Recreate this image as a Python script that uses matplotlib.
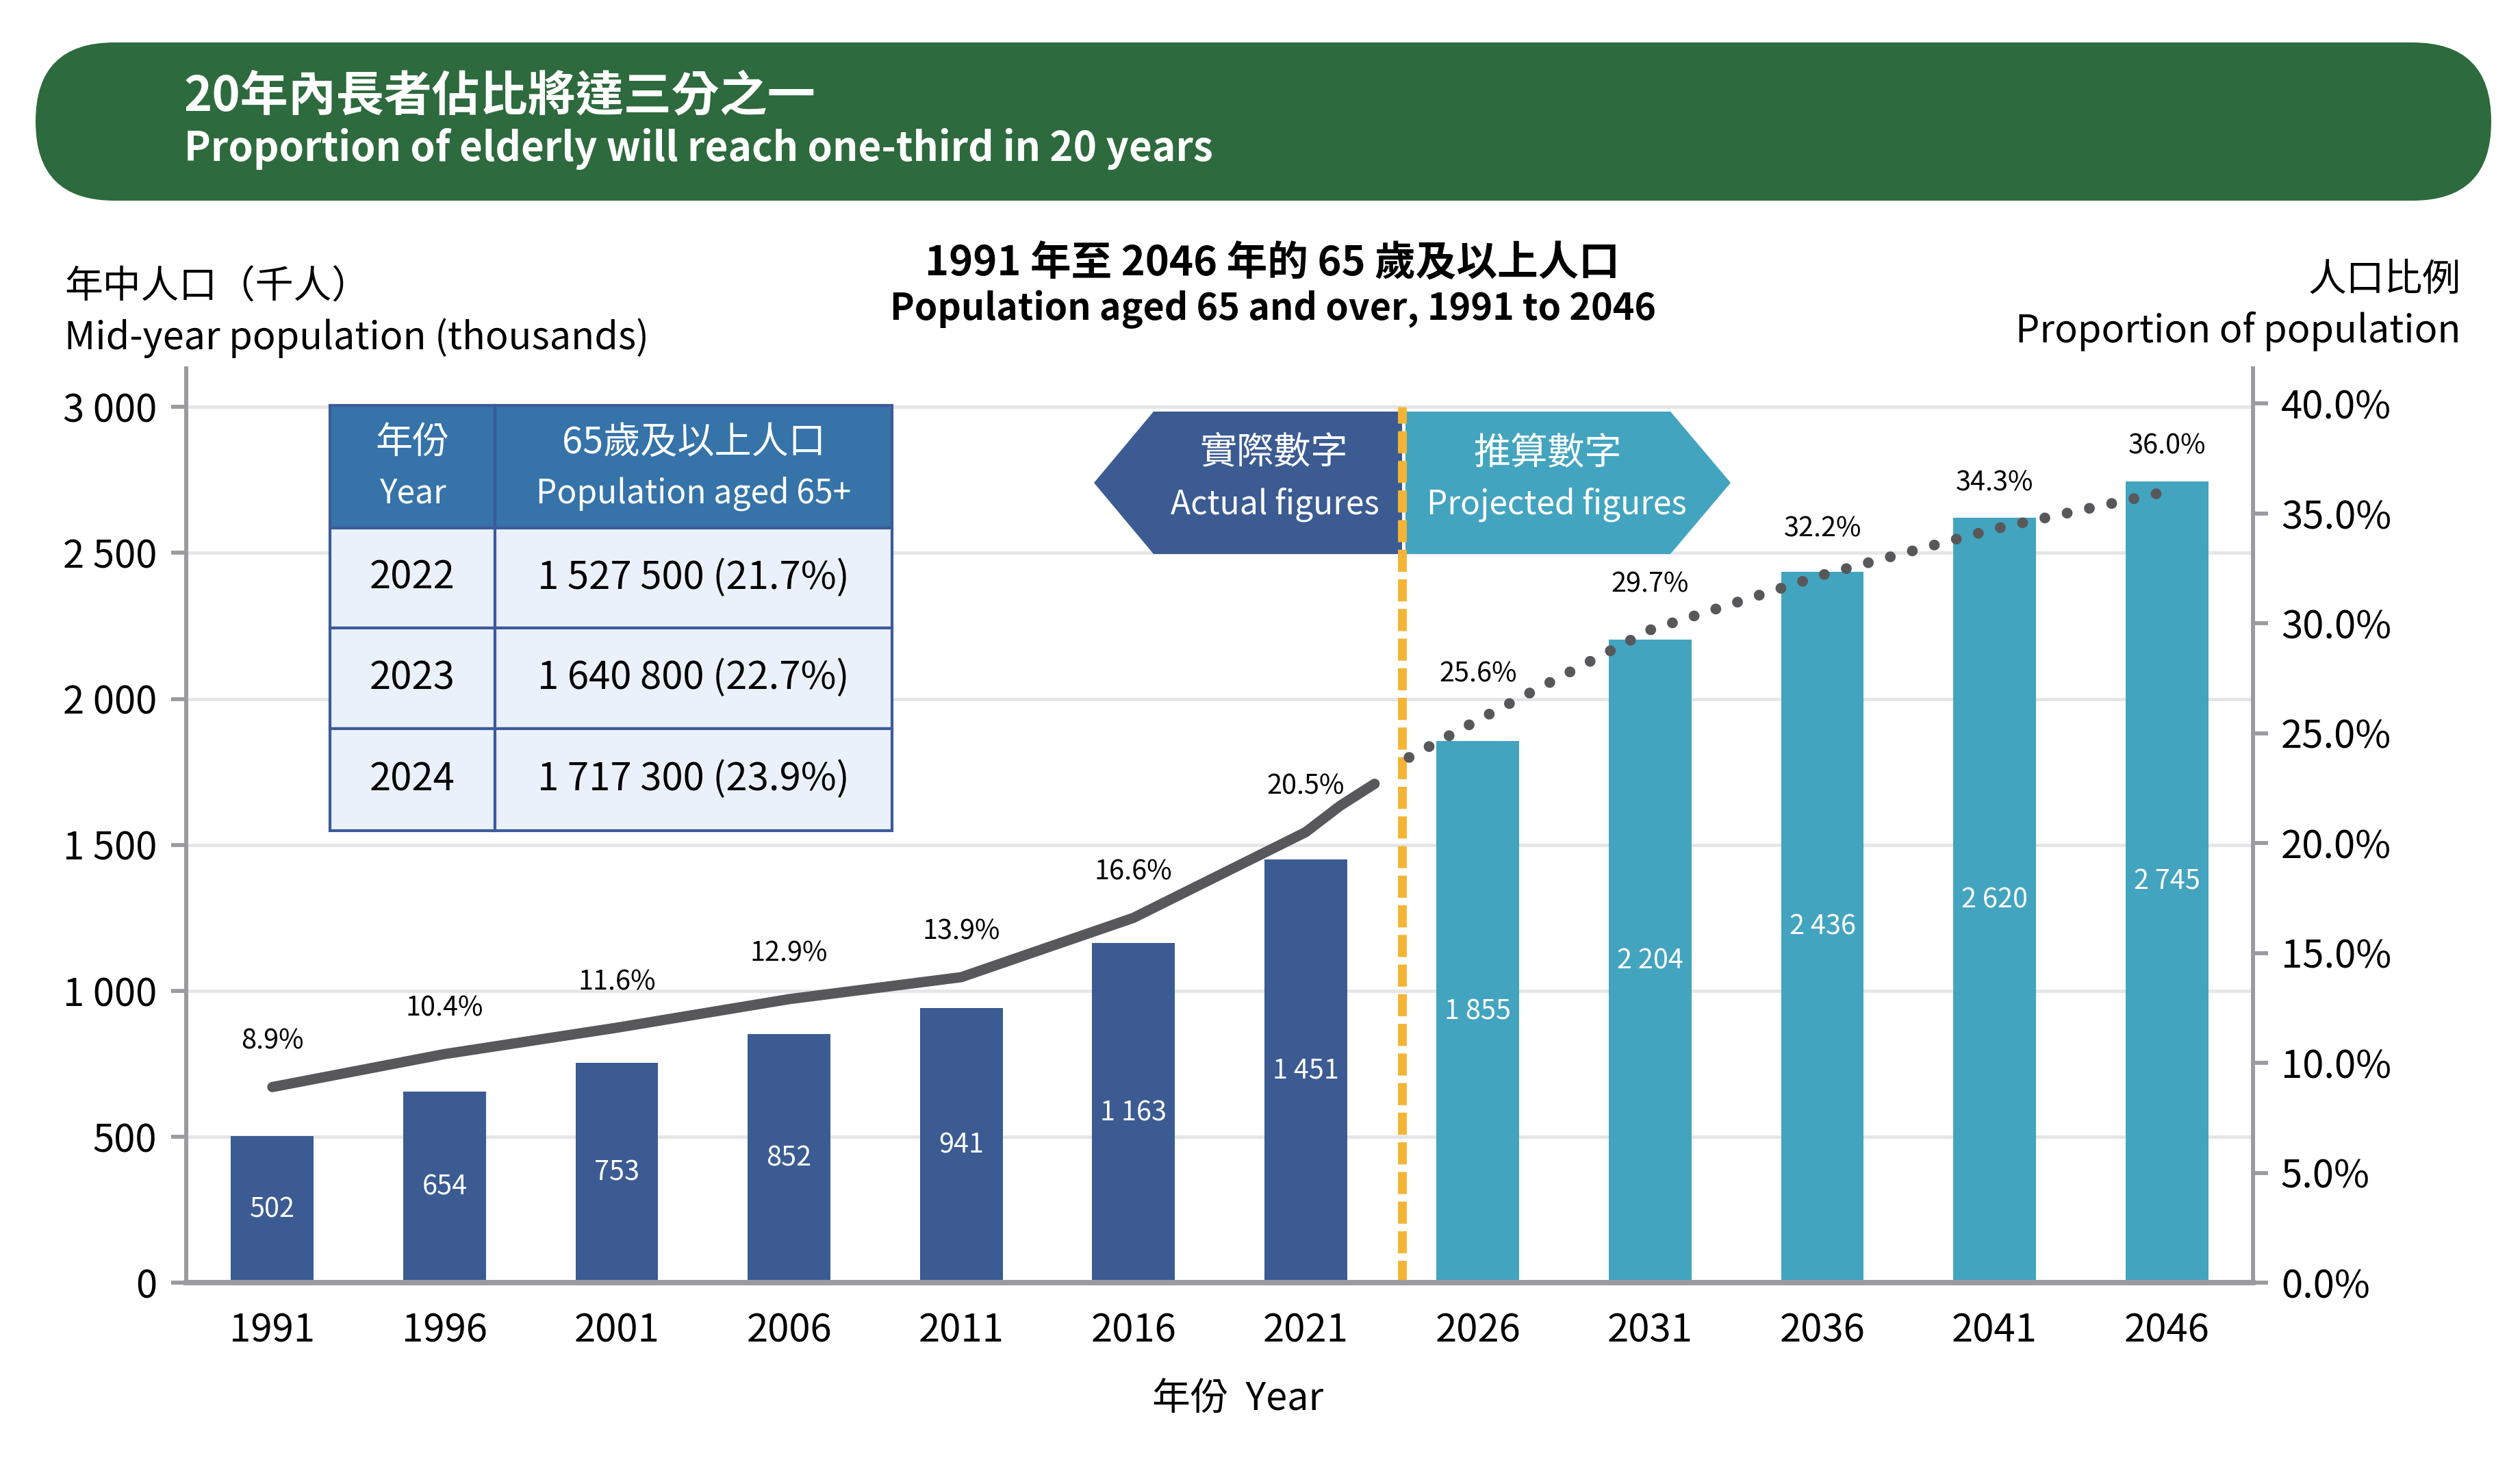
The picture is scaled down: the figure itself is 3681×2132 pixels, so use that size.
import numpy as np
import matplotlib
matplotlib.use('Agg')
import matplotlib.pyplot as plt
import matplotlib.transforms as mtransforms
from matplotlib.patches import Polygon, FancyBboxPatch, Rectangle

plt.rcParams['font.family'] = ['Noto Sans CJK TC', 'DejaVu Sans']

# 數據 / data
years_actual = [1991, 1996, 2001, 2006, 2011, 2016, 2021]
pop_actual = [502, 654, 753, 852, 941, 1163, 1451]
years_proj = [2026, 2031, 2036, 2041, 2046]
pop_proj = [1855, 2204, 2436, 2620, 2745]

line_years_actual = [1991, 1996, 2001, 2006, 2011, 2016, 2021, 2022, 2023]
line_pct_actual = [8.9, 10.4, 11.6, 12.9, 13.9, 16.6, 20.5, 21.7, 22.7]
line_years_proj = [2024, 2026, 2031, 2036, 2041, 2046]
line_pct_proj = [23.9, 25.6, 29.7, 32.2, 34.3, 36.0]

label_years = years_actual + years_proj
label_pct = [8.9, 10.4, 11.6, 12.9, 13.9, 16.6, 20.5, 25.6, 29.7, 32.2, 34.3, 36.0]

table_years = ['2022', '2023', '2024']
table_values = ['1 527 500 (21.7%)', '1 640 800 (22.7%)', '1 717 300 (23.9%)']

left_ticks = [0, 500, 1000, 1500, 2000, 2500, 3000]
left_ticklabels = ['0', '500', '1 000', '1 500', '2 000', '2 500', '3 000']
right_ticks = [0, 5, 10, 15, 20, 25, 30, 35, 40]

divider_year = 2023.8

# 顏色
DARK = '#3B5B92'
TEAL = '#43A4BF'
LINE = '#58585B'
ORANGE = '#F4B536'
GRID = '#E6E6E8'
SPINE = '#9B9B9F'
GREEN = '#2D6A3D'
TBL_HEAD = '#3573A9'
TBL_BODY = '#EBF1FA'
TBL_EDGE = '#3D5A99'

W, H = 3681, 2132
fig = plt.figure(figsize=(W / 300, H / 300), dpi=300)
# pixel coords, y downwards
px = mtransforms.Affine2D().scale(1 / W, -1 / H).translate(0, 1) + fig.transFigure

ax = fig.add_axes([272 / W, 1 - 1873 / H, (3291 - 272) / W, (1873 - 538) / H])
ax2 = ax.twinx()

ax.bar(years_actual, pop_actual, width=2.4, color=DARK, zorder=1)
ax.bar(years_proj, pop_proj, width=2.4, color=TEAL, zorder=1)
for x, v in zip(years_actual + years_proj, pop_actual + pop_proj):
    ax.text(x, v / 2, f'{v:,}'.replace(',', ' '), ha='center', va='center',
            color='white', fontsize=9.5, zorder=3)

ax.vlines(divider_year, 0, 3000, colors=ORANGE, linewidth=3.1,
          linestyles=(0, (2.5, 0.85)), zorder=3, clip_on=False)

ax.set_xlim(1988.5, 2048.5)
ax.set_ylim(0, 3132)
ax2.set_ylim(0, 41.6)
ax.set_axisbelow(True)
ax.yaxis.grid(True, color=GRID, linewidth=1.2)
ax.set_yticks(left_ticks)
ax.set_yticklabels(left_ticklabels)
ax.set_xticks(label_years)
ax.set_xticklabels([str(y) for y in label_years])
ax2.set_yticks(right_ticks)
ax2.set_yticklabels([f'{t:.1f}%' for t in right_ticks])

for a in (ax, ax2):
    a.spines['top'].set_visible(False)
    a.spines['left'].set_color(SPINE)
    a.spines['right'].set_color(SPINE)
    a.spines['bottom'].set_color(SPINE)
    a.spines['left'].set_linewidth(1.4)
    a.spines['right'].set_linewidth(1.4)
    a.spines['bottom'].set_linewidth(1.8)
ax.tick_params(axis='y', length=5.3, width=1.4, color=SPINE, pad=5, labelsize=13.5)
ax2.tick_params(axis='y', length=5.3, width=1.4, color=SPINE, pad=4.5, labelsize=13.5)
ax.tick_params(axis='x', length=0, pad=10, labelsize=13.5)

# 比例線
ax2.plot(line_years_actual, line_pct_actual, color=LINE, linewidth=3.6,
         solid_capstyle='round', solid_joinstyle='round', zorder=4)
ax2.plot(line_years_proj, line_pct_proj, color=LINE, linewidth=3.8,
         linestyle=(0, (0.001, 2.1)), dash_capstyle='round', zorder=4)
for x, p in zip(label_years, label_pct):
    ax2.annotate(f'{p:.1f}%', (x, p), xytext=(0, 16), textcoords='offset points',
                 ha='center', va='center', fontsize=9.5, zorder=5)

# 實際 / 推算 標籤
left_poly = [(1598, 705), (1685, 601), (2048, 601), (2048, 809), (1685, 809)]
right_poly = [(2053, 601), (2440, 601), (2528, 705), (2440, 809), (2053, 809)]
ax.add_patch(Polygon(left_poly, closed=True, facecolor=DARK, edgecolor='none',
                     transform=px, clip_on=False, zorder=2))
ax.add_patch(Polygon(right_poly, closed=True, facecolor=TEAL, edgecolor='none',
                     transform=px, clip_on=False, zorder=2))
ax.text(1861, 662, '實際數字', transform=px, ha='center', va='center',
        color='white', fontsize=13, zorder=2.5)
ax.text(1862, 737, 'Actual figures', transform=px, ha='center', va='center',
        color='white', fontsize=11.5, zorder=2.5)
ax.text(2261, 662, '推算數字', transform=px, ha='center', va='center',
        color='white', fontsize=13, zorder=2.5)
ax.text(2274, 737, 'Projected figures', transform=px, ha='center', va='center',
        color='white', fontsize=11.5, zorder=2.5)

# 表格
row_edges = [592, 771, 917, 1064, 1213]
col_edges = [482, 723, 1303]
for i in range(len(row_edges) - 1):
    for j in range(len(col_edges) - 1):
        fc = TBL_HEAD if i == 0 else TBL_BODY
        r = Rectangle((col_edges[j], row_edges[i]), col_edges[j + 1] - col_edges[j],
                      row_edges[i + 1] - row_edges[i], facecolor=fc,
                      edgecolor=TBL_EDGE, linewidth=1.0, transform=px, zorder=10)
        fig.add_artist(r)
c1 = (col_edges[0] + col_edges[1]) / 2
c2 = (col_edges[1] + col_edges[2]) / 2
fig.text(c1, 646, '年份', transform=px, ha='center', va='center', color='white', fontsize=13, zorder=11)
fig.text(c1, 721, 'Year', transform=px, ha='center', va='center', color='white', fontsize=11.5, zorder=11)
fig.text(c2, 646, '65歲及以上人口', transform=px, ha='center', va='center', color='white', fontsize=13, zorder=11)
fig.text(c2, 721, 'Population aged 65+', transform=px, ha='center', va='center', color='white', fontsize=11.5, zorder=11)
for i, (yr, val) in enumerate(zip(table_years, table_values)):
    yc = (row_edges[i + 1] + row_edges[i + 2]) / 2
    fig.text(c1, yc, yr, transform=px, ha='center', va='center', fontsize=13.5, zorder=11)
    fig.text(c2, yc, val, transform=px, ha='center', va='center', fontsize=13.5, zorder=11)

# 標題橫幅
banner = FancyBboxPatch((52, 62), 3587, 231, boxstyle='round,pad=0,rounding_size=115',
                        facecolor=GREEN, edgecolor='none', transform=px)
fig.add_artist(banner)
fig.text(269, 141, '20年內長者佔比將達三分之一', transform=px, ha='left', va='center',
         color='white', fontsize=16.8, fontweight='bold')
fig.text(269, 218, 'Proportion of elderly will reach one-third in 20 years', transform=px,
         ha='left', va='center', color='white', fontsize=14, fontweight='bold')

# 圖表標題及軸標籤
fig.text(1858, 386, '1991 年至 2046 年的 65 歲及以上人口', transform=px, ha='center',
         va='center', fontsize=14.3, fontweight='bold')
fig.text(1860, 452, 'Population aged 65 and over, 1991 to 2046', transform=px, ha='center',
         va='center', fontsize=12.9, fontweight='bold')
fig.text(94, 420, '年中人口（千人）', transform=px, ha='left', va='center', fontsize=13.4)
fig.text(94, 494, 'Mid-year population (thousands)', transform=px, ha='left', va='center', fontsize=13.4)
fig.text(3595, 409, '人口比例', transform=px, ha='right', va='center', fontsize=13.4)
fig.text(3595, 484, 'Proportion of population', transform=px, ha='right', va='center', fontsize=13.4)
fig.text(1808, 2043, '年份  Year', transform=px, ha='center', va='center', fontsize=13.4)

fig.savefig('out.png', dpi=300)
